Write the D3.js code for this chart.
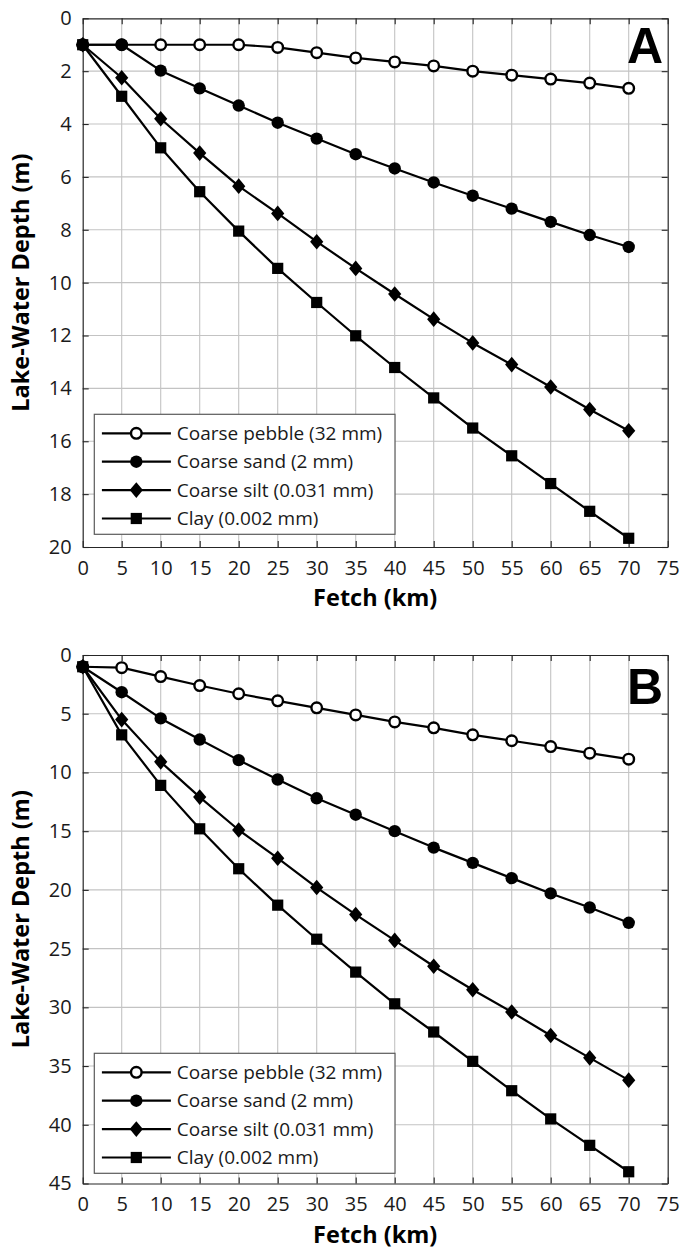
<!DOCTYPE html>
<html>
<head>
<meta charset="utf-8">
<script src="https://cdn.jsdelivr.net/npm/d3@7"></script>
<style>
html,body{margin:0;padding:0;background:#fff;}
svg{display:block;}
</style>
</head>
<body>
<svg id="chart" width="682" height="1250"></svg>
<script>
// ---------- data ----------
const fetchKm = [0,5,10,15,20,25,30,35,40,45,50,55,60,65,70];
const seriesNames = ["Coarse pebble (32 mm)","Coarse sand (2 mm)","Coarse silt (0.031 mm)","Clay (0.002 mm)"];
const markerTypes = ["openCircle","circle","diamond","square"];

// Panel A depths (m)
const pebbleA = [1,1,1,1,1,1.1,1.3,1.5,1.65,1.8,2.0,2.15,2.3,2.45,2.65];
const sandA   = [1,1.0,1.98,2.65,3.3,3.95,4.55,5.14,5.68,6.21,6.71,7.2,7.7,8.2,8.65];
const siltA   = [1,2.25,3.8,5.1,6.35,7.38,8.45,9.46,10.43,11.38,12.28,13.1,13.95,14.8,15.6];
const clayA   = [1,2.95,4.9,6.56,8.05,9.46,10.75,12.01,13.21,14.36,15.5,16.55,17.6,18.65,19.67];

// Panel B depths (m)
const pebbleB = [1,1.08,1.84,2.6,3.3,3.9,4.5,5.1,5.7,6.2,6.8,7.3,7.8,8.36,8.87];
const sandB   = [1,3.17,5.4,7.2,8.95,10.6,12.2,13.6,15.0,16.4,17.7,19.0,20.3,21.5,22.8];
const siltB   = [1,5.5,9.1,12.1,14.9,17.3,19.8,22.1,24.3,26.5,28.5,30.4,32.4,34.3,36.2];
const clayB   = [1,6.8,11.1,14.8,18.2,21.3,24.2,27.0,29.7,32.1,34.6,37.1,39.5,41.75,44.0];

const xTicks = [0,5,10,15,20,25,30,35,40,45,50,55,60,65,70,75];
const yTicksA = [0,2,4,6,8,10,12,14,16,18,20];
const yTicksB = [0,5,10,15,20,25,30,35,40,45];

const xLabel = "Fetch (km)";
const yLabel = "Lake-Water Depth (m)";

// ---------- drawing ----------
const svg = d3.select("#chart");
const LEFT = 82.7, RIGHT = 667.7;
const FONT = "'Open Sans', 'Noto Sans', sans-serif";

function drawMarker(g, type, x, y) {
  if (type === "openCircle") {
    g.append("circle").attr("cx", x).attr("cy", y).attr("r", 5.3)
      .attr("fill", "#fff").attr("stroke", "#000").attr("stroke-width", 2.4);
  } else if (type === "circle") {
    g.append("circle").attr("cx", x).attr("cy", y).attr("r", 6.2).attr("fill", "#000");
  } else if (type === "diamond") {
    const w = 6.6, h = 7.8;
    g.append("path").attr("d", `M${x},${y-h}L${x+w},${y}L${x},${y+h}L${x-w},${y}Z`).attr("fill", "#000");
  } else if (type === "square") {
    const s = 5.6;
    g.append("rect").attr("x", x-s).attr("y", y-s).attr("width", 2*s).attr("height", 2*s).attr("fill", "#000");
  }
}

function panel(cfg) {
  const g = svg.append("g");
  const x = d3.scaleLinear().domain([0,75]).range([LEFT, RIGHT]);
  const y = d3.scaleLinear().domain([0, cfg.yMax]).range([cfg.top, cfg.bottom]);

  // grid
  g.append("g").selectAll("line").data(xTicks.slice(1, -1)).join("line")
    .attr("x1", d => x(d)).attr("x2", d => x(d)).attr("y1", cfg.top).attr("y2", cfg.bottom)
    .attr("stroke", "#c3c3c3").attr("stroke-width", 1.1);
  g.append("g").selectAll("line").data(cfg.yTicks.slice(1, -1)).join("line")
    .attr("y1", d => y(d)).attr("y2", d => y(d)).attr("x1", LEFT).attr("x2", RIGHT)
    .attr("stroke", "#c3c3c3").attr("stroke-width", 1.1);

  // axes via d3 axis (inward ticks)
  const axisColor = "#262626";
  const xb = g.append("g").attr("transform", `translate(0,${cfg.bottom})`)
    .call(d3.axisBottom(x).tickValues(xTicks).tickSizeInner(-6).tickSizeOuter(0).tickPadding(12).tickFormat(d3.format("d")));
  const xt = g.append("g").attr("transform", `translate(0,${cfg.top})`)
    .call(d3.axisTop(x).tickValues(xTicks).tickSizeInner(-6).tickSizeOuter(0).tickFormat(""));
  const yl = g.append("g").attr("transform", `translate(${LEFT},0)`)
    .call(d3.axisLeft(y).tickValues(cfg.yTicks).tickSizeInner(-6).tickSizeOuter(0).tickPadding(11).tickFormat(d3.format("d")));
  const yr = g.append("g").attr("transform", `translate(${RIGHT},0)`)
    .call(d3.axisRight(y).tickValues(cfg.yTicks).tickSizeInner(-6).tickSizeOuter(0).tickFormat(""));
  [xb, xt, yl, yr].forEach(a => {
    a.select(".domain").attr("stroke", axisColor).attr("stroke-width", 1.2);
    a.selectAll(".tick line").attr("stroke", axisColor).attr("stroke-width", 1.1);
    a.selectAll(".tick text").attr("fill", "#1a1a1a").style("font-family", FONT).style("font-size", "20px");
  });
  xb.selectAll(".tick text").attr("dy", "0.35em").attr("y", 20.5);

  // series
  const line = d3.line().x((d, i) => x(fetchKm[i])).y(d => y(d));
  cfg.series.forEach((vals, si) => {
    g.append("path").datum(vals).attr("d", line).attr("fill", "none")
      .attr("stroke", "#000").attr("stroke-width", 2.2).attr("stroke-linejoin", "round");
  });
  cfg.series.forEach((vals, si) => {
    const mg = g.append("g");
    vals.forEach((v, i) => drawMarker(mg, markerTypes[si], x(fetchKm[i]), y(v)));
  });

  // legend
  const lx = 94.3, lw = 300.7, lh = 120, ly = cfg.legendTop;
  const lg = g.append("g");
  lg.append("rect").attr("x", lx).attr("y", ly).attr("width", lw).attr("height", lh)
    .attr("fill", "#fff").attr("stroke", "#5a5a5a").attr("stroke-width", 1.2);
  seriesNames.forEach((name, i) => {
    const ry = ly + 19 + i * 28.4;
    lg.append("line").attr("x1", lx + 7.6).attr("x2", lx + 76.6).attr("y1", ry).attr("y2", ry)
      .attr("stroke", "#000").attr("stroke-width", 2.2);
    drawMarker(lg, markerTypes[i], lx + 42, ry);
    lg.append("text").attr("x", lx + 82.5).attr("y", ry).attr("dy", "0.35em")
      .style("font-family", FONT).style("font-size", "19px").attr("fill", "#1a1a1a").text(name);
  });

  // axis titles
  g.append("text").attr("x", (LEFT + RIGHT) / 2).attr("y", cfg.bottom + 51).attr("dy", "0.35em")
    .attr("text-anchor", "middle").style("font-family", FONT).style("font-weight", "bold")
    .style("font-size", "23.5px").attr("fill", "#000").text(xLabel);
  g.append("text").attr("transform", `translate(21,${(cfg.top + cfg.bottom) / 2}) rotate(-90)`)
    .attr("dy", "0.35em").attr("text-anchor", "middle").style("font-family", FONT)
    .style("font-weight", "bold").style("font-size", "23.5px").attr("fill", "#000").text(yLabel);

  // panel letter
  g.append("text").attr("x", 663).attr("y", cfg.letterY).attr("text-anchor", "end")
    .style("font-family", "'Liberation Sans', Arial, sans-serif").style("font-weight", "bold")
    .style("font-size", "50px").attr("fill", "#000").text(cfg.letter);
}

panel({top: 18.3, bottom: 547, yMax: 20, yTicks: yTicksA, series: [pebbleA, sandA, siltA, clayA],
       legendTop: 414.3, letter: "A", letterY: 62.7});
panel({top: 655, bottom: 1183.5, yMax: 45, yTicks: yTicksB, series: [pebbleB, sandB, siltB, clayB],
       legendTop: 1053.3, letter: "B", letterY: 704});
</script>
</body>
</html>
